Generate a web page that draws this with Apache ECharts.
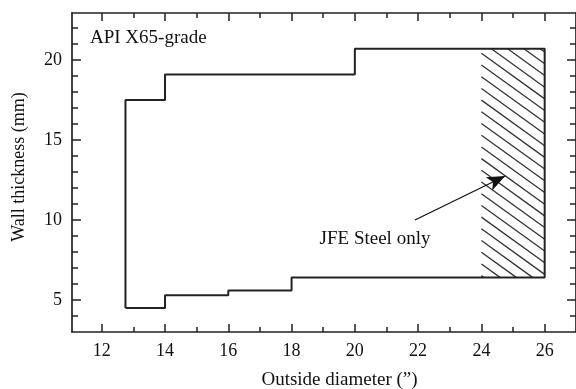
<!DOCTYPE html>
<html>
<head>
<meta charset="utf-8">
<script src="https://cdn.jsdelivr.net/npm/echarts@6/dist/echarts.min.js"></script>
<style>
  html, body { margin: 0; padding: 0; background: #fff; }
  #chart { width: 576px; height: 389px; }
</style>
</head>
<body>
<div id="chart"></div>
<script>
// Feasible size window for API X65-grade pipe: outside diameter (inch) vs wall thickness (mm)
const outlineX = [12.75, 12.75, 14, 14, 20, 20, 26, 26, 18, 18, 16, 16, 14, 14, 12.75];
const outlineY = [4.5, 17.5, 17.5, 19.1, 19.1, 20.7, 20.7, 6.4, 6.4, 5.6, 5.6, 5.3, 5.3, 4.5, 4.5];

// Region produced by JFE Steel only: [xFrom, yFrom, xTo, yTo]
const hatchX = [24, 26];
const hatchY = [6.4, 20.7];

// Arrow pointing from the note into the hatched region
const arrowX = [21.9, 24.75];
const arrowY = [10.0, 12.75];

// Tick positions
const xMajorTicks = [12, 14, 16, 18, 20, 22, 24, 26];
const xMinorTicks = [13, 15, 17, 19, 21, 23, 25];
const yMajorTicks = [5, 10, 15, 20];
const yMinorTicks = [4, 6, 7, 8, 9, 11, 12, 13, 14, 16, 17, 18, 19, 21, 22];

const FONT = '"Liberation Serif", "Times New Roman", serif';
const INK = '#222';

const chart = echarts.init(document.getElementById('chart'), null, { renderer: 'canvas' });

const X_MIN = 11.06, X_MAX = 26.99, Y_MIN = 3, Y_MAX = 22.94;

function xAxisDef(position, ticks, len, withLabel, withLine) {
  return {
    type: 'value', position, min: X_MIN, max: X_MAX,
    axisLine: { show: withLine, onZero: false, lineStyle: { color: INK, width: 1.7 } },
    axisTick: { show: true, inside: true, length: len, customValues: ticks, lineStyle: { color: INK, width: 1.5 } },
    axisLabel: withLabel
      ? { show: true, customValues: ticks, margin: 10, color: '#111', fontFamily: FONT, fontSize: 18 }
      : { show: false },
    splitLine: { show: false }
  };
}
function yAxisDef(position, ticks, len, withLabel, withLine) {
  return {
    type: 'value', position, min: Y_MIN, max: Y_MAX,
    axisLine: { show: withLine, onZero: false, lineStyle: { color: INK, width: 1.7 } },
    axisTick: { show: true, inside: true, length: len, customValues: ticks, lineStyle: { color: INK, width: 1.5 } },
    axisLabel: withLabel
      ? { show: true, customValues: ticks, margin: 10, color: '#111', fontFamily: FONT, fontSize: 18 }
      : { show: false },
    splitLine: { show: false }
  };
}

// Diagonal hatching clipped to the rectangle
function renderHatch(params, api) {
  const p0 = api.coord([api.value(0), api.value(3)]);
  const p1 = api.coord([api.value(2), api.value(1)]);
  const left = p0[0], top = p0[1], right = p1[0], bottom = p1[1];
  const w = right - left;
  const slope = 0.72, gap = 11.7, phase = 4.5;
  const kMin = Math.floor(-(slope * w) / gap) - 2;
  const kMax = Math.ceil((bottom - top) / gap) + 2;
  const children = [];
  for (let k = kMin; k <= kMax; k++) {
    const c = top + phase + k * gap; // y where the line meets the left edge
    const xs = Math.max(left, left + (top - c) / slope);
    const xe = Math.min(right, left + (bottom - c) / slope);
    if (xe - xs > 0.5) {
      children.push({
        type: 'line',
        shape: { x1: xs, y1: c + slope * (xs - left), x2: xe, y2: c + slope * (xe - left) },
        style: { stroke: '#333', lineWidth: 1.3 }
      });
    }
  }
  return { type: 'group', children };
}

const option = {
  animation: false,
  backgroundColor: '#fff',
  grid: { left: 72, top: 13, right: -1, bottom: 57, containLabel: false },
  xAxis: [
    xAxisDef('bottom', xMajorTicks, 8, true, true),
    xAxisDef('bottom', xMinorTicks, 5, false, false),
    xAxisDef('top', xMajorTicks, 8, false, true),
    xAxisDef('top', xMinorTicks, 5, false, false)
  ],
  yAxis: [
    yAxisDef('left', yMajorTicks, 9, true, true),
    yAxisDef('left', yMinorTicks, 6, false, false),
    yAxisDef('right', yMajorTicks, 9, false, true),
    yAxisDef('right', yMinorTicks, 6, false, false)
  ],
  graphic: [
    { type: 'text', left: 90, top: 29, style: { text: 'API X65-grade', font: '19px ' + FONT, fill: '#111' } },
    { type: 'text', x: 375, y: 239, style: { text: 'JFE Steel only', font: '19px ' + FONT, fill: '#111', align: 'center', verticalAlign: 'middle' } },
    { type: 'text', x: 339.5, y: 380, style: { text: 'Outside diameter (\u201D)', font: '19px ' + FONT, fill: '#111', align: 'center', verticalAlign: 'middle' } },
    { type: 'text', x: 19, y: 167, rotation: Math.PI / 2, style: { text: 'Wall thickness (mm)', font: '18px ' + FONT, fill: '#111', align: 'center', verticalAlign: 'middle' } }
  ],
  series: [
    {
      type: 'custom',
      xAxisIndex: 0, yAxisIndex: 0,
      renderItem: renderHatch,
      encode: { x: [0, 2], y: [1, 3] },
      data: [[hatchX[0], hatchY[0], hatchX[1], hatchY[1]]],
      silent: true
    },
    {
      type: 'line',
      xAxisIndex: 0, yAxisIndex: 0,
      data: outlineX.map((x, i) => [x, outlineY[i]]),
      showSymbol: false,
      symbol: 'none',
      lineStyle: { color: INK, width: 2 },
      silent: true,
      markLine: {
        silent: true,
        symbol: ['none', 'arrow'],
        symbolSize: [11, 18],
        label: { show: false },
        lineStyle: { color: '#111', width: 1.3, type: 'solid' },
        data: [[
          { coord: [arrowX[0], arrowY[0]] },
          { coord: [arrowX[1], arrowY[1]] }
        ]]
      }
    }
  ]
};

chart.setOption(option);
</script>
</body>
</html>
